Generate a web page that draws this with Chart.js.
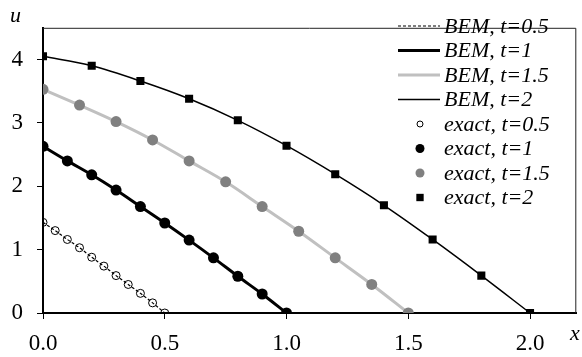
<!DOCTYPE html>
<html>
<head>
<meta charset="utf-8">
<script src="https://cdn.jsdelivr.net/npm/chart.js@4.4.1/dist/chart.umd.min.js"></script>
<style>
  html, body { margin: 0; padding: 0; background: #fff; }
</style>
</head>
<body>
<canvas id="chart" width="582" height="357"></canvas>
<script>
// values, one pair of arrays per time level
const xT05 = [0, 0.05, 0.1, 0.15, 0.2, 0.25, 0.3, 0.35, 0.4, 0.45, 0.5];
const uT05 = [1.43, 1.30, 1.16, 1.03, 0.88, 0.74, 0.59, 0.45, 0.31, 0.16, 0];

const xT1 = [0, 0.1, 0.2, 0.3, 0.4, 0.5, 0.6, 0.7, 0.8, 0.9, 1.0];
const uT1 = [2.63, 2.40, 2.18, 1.94, 1.68, 1.42, 1.15, 0.87, 0.58, 0.30, 0];

const xT15 = [0, 0.15, 0.3, 0.45, 0.6, 0.75, 0.9, 1.05, 1.2, 1.35, 1.5];
const uT15 = [3.53, 3.28, 3.02, 2.73, 2.40, 2.07, 1.68, 1.29, 0.87, 0.45, 0];

const xT2 = [0, 0.2, 0.4, 0.6, 0.8, 1.0, 1.2, 1.4, 1.6, 1.8, 2.0];
const uT2 = [4.05, 3.90, 3.66, 3.38, 3.04, 2.64, 2.19, 1.70, 1.16, 0.59, 0];

const xTicks = [0, 0.5, 1.0, 1.5, 2.0];
const yTicks = [0, 1, 2, 3, 4];

const bemLabels = ['BEM, t=0.5', 'BEM, t=1', 'BEM, t=1.5', 'BEM, t=2'];
const exactLabels = ['exact, t=0.5', 'exact, t=1', 'exact, t=1.5', 'exact, t=2'];

const FONT = "'Liberation Serif', 'Times New Roman', serif";

function toPoints(xs, ys) {
  return xs.map((x, i) => ({ x: x, y: ys[i] }));
}

function bemLine(label, xs, ys, color, width, dash) {
  return {
    label: label,
    data: toPoints(xs, ys),
    borderColor: color,
    borderWidth: width,
    borderDash: dash,
    pointRadius: 0,
    cubicInterpolationMode: 'monotone',
    fill: false,
    order: 1
  };
}

function exactPoints(label, xs, ys, style, radius, fillColor, edgeColor, edgeWidth) {
  return {
    label: label,
    data: toPoints(xs, ys),
    showLine: false,
    pointStyle: style,
    pointRadius: radius,
    pointBackgroundColor: fillColor,
    pointBorderColor: edgeColor,
    pointBorderWidth: edgeWidth,
    order: 0
  };
}

const datasets = [
  bemLine(bemLabels[0], xT05, uT05, '#000', 1.2, [3, 2]),
  bemLine(bemLabels[1], xT1, uT1, '#000', 3, []),
  bemLine(bemLabels[2], xT15, uT15, '#c0c0c0', 3, []),
  bemLine(bemLabels[3], xT2, uT2, '#000', 1.5, []),
  exactPoints(exactLabels[0], xT05, uT05, 'circle', 4, 'rgba(0,0,0,0)', '#000', 1),
  exactPoints(exactLabels[1], xT1, uT1, 'circle', 5.5, '#000', '#000', 0),
  exactPoints(exactLabels[2], xT15, uT15, 'circle', 5.5, '#808080', '#808080', 0),
  exactPoints(exactLabels[3], xT2, uT2, 'rect', 5.7, '#000', '#000', 0)
];

// thin frame on top and right of the plot area
const framePlugin = {
  id: 'frame',
  beforeDatasetsDraw(chart) {
    const { ctx, chartArea } = chart;
    ctx.save();
    ctx.strokeStyle = '#222';
    ctx.lineWidth = 1;
    ctx.beginPath();
    ctx.moveTo(chartArea.left, chartArea.top + 0.5);
    ctx.lineTo(chartArea.right - 0.5, chartArea.top + 0.5);
    ctx.lineTo(chartArea.right - 0.5, chartArea.bottom);
    ctx.stroke();
    ctx.restore();
  }
};

// legend in the upper right corner plus the axis letters
const legendPlugin = {
  id: 'innerLegend',
  afterDraw(chart) {
    const ctx = chart.ctx;
    const rowY = i => 26 + i * 24.5;
    const textX = 444;
    ctx.save();
    ctx.font = 'italic 22px ' + FONT;
    ctx.fillStyle = '#000';
    ctx.textBaseline = 'middle';
    ctx.textAlign = 'left';

    for (let i = 0; i < 4; i++) {
      const ds = chart.data.datasets[i];
      const y = rowY(i);
      ctx.save();
      ctx.strokeStyle = ds.borderColor;
      ctx.lineWidth = ds.borderWidth;
      ctx.setLineDash(ds.borderDash);
      ctx.beginPath();
      ctx.moveTo(398, y);
      ctx.lineTo(440, y);
      ctx.stroke();
      ctx.restore();
      ctx.fillText(ds.label, textX, y + 1);
    }

    const markSize = [3, 4.5, 4.5, 5.2];
    for (let i = 0; i < 4; i++) {
      const ds = chart.data.datasets[i + 4];
      const y = rowY(i + 4);
      const r = markSize[i];
      ctx.save();
      ctx.fillStyle = ds.pointBackgroundColor;
      ctx.strokeStyle = ds.pointBorderColor;
      ctx.lineWidth = 1;
      ctx.beginPath();
      if (ds.pointStyle === 'rect') {
        const h = r * Math.SQRT1_2;
        ctx.rect(420 - h, y - h, 2 * h, 2 * h);
      } else {
        ctx.arc(420, y, r, 0, Math.PI * 2);
      }
      ctx.fill();
      if (ds.pointBorderWidth > 0) ctx.stroke();
      ctx.restore();
      ctx.fillText(ds.label, textX, y + 1);
    }

    ctx.fillText('u', 10, 16);
    ctx.fillText('x', 570, 334);
    ctx.restore();
  }
};

new Chart(document.getElementById('chart'), {
  type: 'line',
  data: { datasets: datasets },
  options: {
    responsive: false,
    animation: false,
    devicePixelRatio: 1,
    layout: { padding: { top: 11, right: 2, left: 0, bottom: 0 } },
    plugins: {
      legend: { display: false },
      tooltip: { enabled: false }
    },
    scales: {
      x: {
        type: 'linear',
        min: 0,
        max: 2.19,
        afterBuildTicks: s => { s.ticks = xTicks.map(v => ({ value: v })); },
        afterFit: s => { s.height = 44; },
        ticks: {
          callback: v => Number(v).toFixed(1),
          color: '#000',
          font: { family: FONT, size: 23 },
          padding: 11,
          maxRotation: 0,
          autoSkip: false
        },
        grid: { drawOnChartArea: false, drawTicks: true, tickLength: 6, color: '#000' },
        border: { color: '#000', width: 2 }
      },
      y: {
        type: 'linear',
        min: 0,
        max: 4.5,
        afterBuildTicks: s => { s.ticks = yTicks.map(v => ({ value: v })); },
        afterFit: s => { s.width = 43; },
        ticks: {
          callback: v => String(v),
          color: '#000',
          font: { family: FONT, size: 23 },
          padding: 14
        },
        grid: { drawOnChartArea: false, drawTicks: true, tickLength: 6, color: '#000' },
        border: { color: '#000', width: 2 }
      }
    }
  },
  plugins: [framePlugin, legendPlugin]
});
</script>
</body>
</html>
